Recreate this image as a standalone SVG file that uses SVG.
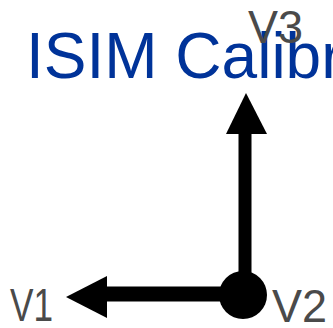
<svg xmlns="http://www.w3.org/2000/svg" width="333" height="328" viewBox="0 0 333 328">
<style>
.title{font-family:"Liberation Sans",Arial,sans-serif;font-size:64px;fill:#003399}
.lbl{font-family:"Liberation Sans",Arial,sans-serif;font-size:46px;fill:#4a4a4a}
.ax{stroke:#000;fill:none}
.head{fill:#000}
</style>
<rect width="333" height="328" fill="#fff"/>
<g id="title"><text class="title" x="26" y="78">ISIM Calibr</text></g>
<g id="connectors">
<line class="ax" x1="245" y1="295" x2="245" y2="130" stroke-width="13"/>
<polygon class="head" points="246,93 226,134 267,134"/>
<line class="ax" x1="243" y1="294" x2="104" y2="294" stroke-width="15"/>
<polygon class="head" points="66,297 107,276 107,318"/>
</g>
<g id="origin"><circle cx="243" cy="295" r="24" fill="#000"/></g>
<g id="V3"><text class="lbl" x="248" y="43" textLength="55" lengthAdjust="spacingAndGlyphs">V3</text></g>
<g id="V1"><text class="lbl" x="10" y="321" textLength="43" lengthAdjust="spacingAndGlyphs">V1</text></g>
<g id="V2"><text class="lbl" x="272" y="322" textLength="55" lengthAdjust="spacingAndGlyphs">V2</text></g>
</svg>
